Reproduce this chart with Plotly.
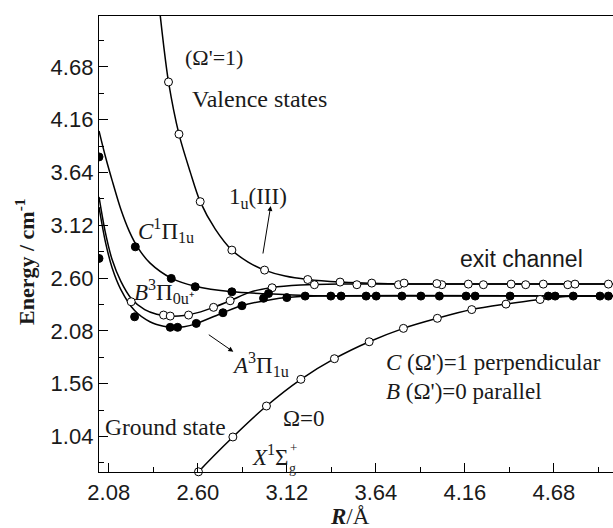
import plotly.graph_objects as go

# ---------------- data ----------------
x_ticks = [2.08, 2.60, 3.12, 3.64, 4.16, 4.68]
x_ticklabels = ["2.08", "2.60", "3.12", "3.64", "4.16", "4.68"]
y_ticks = [1.04, 1.56, 2.08, 2.60, 3.12, 3.64, 4.16, 4.68]
y_ticklabels = ["1.04", "1.56", "2.08", "2.60", "3.12", "3.64", "4.16", "4.68"]

# fitted curves
u1_line_R = [2.37, 2.381, 2.40, 2.429, 2.490, 2.556, 2.614, 2.702, 2.799, 2.894, 2.990, 3.110, 3.242, 3.431, 3.665, 4.0, 5.03]
u1_line_E = [5.35, 5.18, 4.90, 4.532, 4.018, 3.644, 3.353, 3.083, 2.876, 2.758, 2.679, 2.620, 2.586, 2.561, 2.546, 2.541, 2.541]

c_line_R = [2.023, 2.06, 2.10, 2.15, 2.20, 2.25, 2.32, 2.445, 2.585, 2.80, 3.01, 3.23, 3.60, 5.03]
c_line_E = [4.05, 3.80, 3.56, 3.28, 3.06, 2.90, 2.75, 2.60, 2.52, 2.465, 2.445, 2.428, 2.423, 2.423]

b_line_R = [2.023, 2.06, 2.10, 2.15, 2.211, 2.29, 2.36, 2.44, 2.52, 2.60, 2.692, 2.789, 2.906, 3.034, 3.20, 3.43, 5.03]
b_line_E = [3.40, 3.05, 2.78, 2.57, 2.40, 2.29, 2.245, 2.226, 2.232, 2.26, 2.312, 2.377, 2.462, 2.507, 2.531, 2.541, 2.541]

a_line_R = [2.023, 2.06, 2.10, 2.15, 2.231, 2.32, 2.40, 2.46, 2.52, 2.591, 2.747, 2.858, 3.034, 3.12, 3.30, 5.03]
a_line_E = [3.30, 2.96, 2.70, 2.49, 2.28, 2.17, 2.125, 2.113, 2.12, 2.152, 2.259, 2.33, 2.39, 2.408, 2.423, 2.423]

x_line_R = [2.585, 2.604, 2.805, 3.001, 3.202, 3.398, 3.601, 3.801, 3.999, 4.200, 4.400, 4.599, 4.75, 4.85, 5.03]
x_line_E = [0.655, 0.692, 1.035, 1.340, 1.603, 1.806, 1.973, 2.105, 2.204, 2.290, 2.344, 2.389, 2.418, 2.423, 2.423]

# computed points
u1_pts_R = [2.429, 2.490, 2.614, 2.799, 2.990, 3.242, 3.431, 3.616, 3.805, 3.996, 4.180, 4.430, 4.618, 4.803, 4.998]
u1_pts_E = [4.532, 4.018, 3.353, 2.876, 2.679, 2.586, 2.561, 2.551, 2.551, 2.546, 2.541, 2.541, 2.541, 2.541, 2.541]

b_pts_R = [2.211, 2.400, 2.439, 2.546, 2.692, 2.789, 3.034, 3.281, 3.529, 3.772, 4.025, 4.268, 4.515, 4.761]
b_pts_E = [2.367, 2.236, 2.226, 2.236, 2.312, 2.377, 2.505, 2.535, 2.535, 2.535, 2.535, 2.535, 2.535, 2.535]

c_pts_R = [2.023, 2.235, 2.445, 2.585, 2.799, 3.013, 3.227, 3.437, 3.642, 3.903, 4.167, 4.424, 4.687, 4.949]
c_pts_E = [3.794, 2.908, 2.597, 2.515, 2.465, 2.448, 2.423, 2.423, 2.423, 2.423, 2.423, 2.423, 2.423, 2.423]

a_pts_R = [2.023, 2.231, 2.439, 2.482, 2.591, 2.747, 2.858, 2.984, 3.120, 3.377, 3.583, 3.792, 4.011, 4.220, 4.647, 4.793, 4.998]
a_pts_E = [2.794, 2.219, 2.115, 2.115, 2.154, 2.259, 2.328, 2.401, 2.408, 2.423, 2.423, 2.423, 2.423, 2.423, 2.423, 2.423, 2.423]

x_pts_R = [2.604, 2.805, 3.001, 3.202, 3.398, 3.601, 3.801, 3.999, 4.200, 4.400, 4.599]
x_pts_E = [0.692, 1.035, 1.340, 1.603, 1.806, 1.973, 2.105, 2.204, 2.290, 2.344, 2.389]

# ---------------- figure ----------------
W, H = 613, 528
L, R_, T, B = 99, 0, 16, 56

def pxx(x):
    return (x - L) / (W - L - R_)

def pxy(y):
    return (H - B - y) / (H - B - T)

fig = go.Figure()

line_style = dict(color="black", width=1.5, shape="spline", smoothing=0.8)
for Rv, Ev in [(u1_line_R, u1_line_E), (c_line_R, c_line_E), (b_line_R, b_line_E),
               (a_line_R, a_line_E), (x_line_R, x_line_E)]:
    fig.add_trace(go.Scatter(x=Rv, y=Ev, mode="lines", line=line_style,
                             hoverinfo="skip", showlegend=False))

open_m = dict(symbol="circle", size=8, color="white", line=dict(color="black", width=1))
fill_m = dict(symbol="circle", size=8, color="black", line=dict(color="black", width=1))

fig.add_trace(go.Scatter(x=b_pts_R, y=b_pts_E, mode="markers", marker=open_m, showlegend=False))
fig.add_trace(go.Scatter(x=u1_pts_R, y=u1_pts_E, mode="markers", marker=open_m, showlegend=False))
fig.add_trace(go.Scatter(x=c_pts_R, y=c_pts_E, mode="markers", marker=fill_m, showlegend=False))
fig.add_trace(go.Scatter(x=a_pts_R, y=a_pts_E, mode="markers", marker=fill_m, showlegend=False))
fig.add_trace(go.Scatter(x=x_pts_R, y=x_pts_E, mode="markers", marker=open_m,
                         cliponaxis=False, showlegend=False))

serif = "Liberation Serif, Times New Roman, serif"
sans = "Liberation Sans, Arial, sans-serif"
tc = "#1a1a1a"

def ann(text, x, y, size=23, family=serif, xanchor="center", **kw):
    fig.add_annotation(text=text, x=pxx(x), y=pxy(y), xref="paper", yref="paper",
                       showarrow=False, xanchor=xanchor, yanchor="middle",
                       font=dict(family=family, size=size, color=tc), **kw)

ann("(Ω'=1)", 214, 58, size=22)
ann("Valence states", 190, 99, xanchor="left", size=24)
ann("1<sub>u</sub>(III)", 258, 198)
ann("<i>C</i><sup>1</sup>Π<sub>1u</sub>", 166, 231)
ann("<i>B</i><sup>3</sup>Π<sub>0u⁺</sub>", 164, 291)
ann("<i>A</i><sup>3</sup>Π<sub>1u</sub>", 260, 364)
ann("<i>C</i> (Ω')=1 perpendicular", 384, 362, xanchor="left")
ann("<i>B</i> (Ω')=0 parallel", 384, 391, xanchor="left")
ann("Ω=0", 304, 418)
ann("<i>X</i><sup>1</sup>Σ", 270, 455)
ann("+", 293, 447, size=13)
ann("g", 292, 468, size=14)
ann("Ground state", 103, 427, xanchor="left", size=23.5)
ann("exit channel", 521, 259, size=23, family=sans)

# arrows
fig.add_annotation(x=pxx(270.7), y=pxy(206), xref="paper", yref="paper", text="",
                   showarrow=True, ax=-8, ay=49, arrowhead=2, arrowsize=1,
                   arrowwidth=1, arrowcolor="black")
fig.add_annotation(x=pxx(233.3), y=pxy(351.7), xref="paper", yref="paper", text="",
                   showarrow=True, ax=-26, ay=-18, arrowhead=2, arrowsize=1,
                   arrowwidth=1, arrowcolor="black")

# axis titles
fig.add_annotation(text="<b>Energy / cm</b><sup><b>-1</b></sup>", x=pxx(25), y=pxy(262),
                   xref="paper", yref="paper", showarrow=False, textangle=-90,
                   xanchor="center", yanchor="middle",
                   font=dict(family=serif, size=22, color=tc))
fig.add_annotation(text="<b><i>R</i></b>/Å", x=pxx(350), y=pxy(516),
                   xref="paper", yref="paper", showarrow=False,
                   xanchor="center", yanchor="middle",
                   font=dict(family=serif, size=23, color=tc))

fig.update_layout(
    width=W, height=H,
    margin=dict(l=L, r=R_, t=T, b=B, pad=0),
    paper_bgcolor="white", plot_bgcolor="white",
    showlegend=False,
    xaxis=dict(range=[2.023, 5.025], showgrid=False, zeroline=False,
               showline=True, linecolor="black", linewidth=1.3, mirror=True,
               ticks="inside", ticklen=9, tickwidth=1, tickcolor="black",
               tickmode="array", tickvals=x_ticks, ticktext=x_ticklabels,
               tickfont=dict(family=sans, size=22, color=tc),
               minor=dict(ticks="inside", ticklen=5, tickwidth=1, tickcolor="black",
                          tick0=2.08, dtick=0.26, showgrid=False)),
    yaxis=dict(range=[0.69, 5.182], showgrid=False, zeroline=False,
               showline=True, linecolor="black", linewidth=1.3, mirror=False,
               ticks="inside", ticklen=9, tickwidth=1, tickcolor="black",
               tickmode="array", tickvals=y_ticks, ticktext=y_ticklabels,
               tickfont=dict(family=sans, size=22, color=tc),
               minor=dict(ticks="inside", ticklen=5, tickwidth=1, tickcolor="black",
                          tick0=0.78, dtick=0.26, showgrid=False)),
)

fig.write_html("out.html")
